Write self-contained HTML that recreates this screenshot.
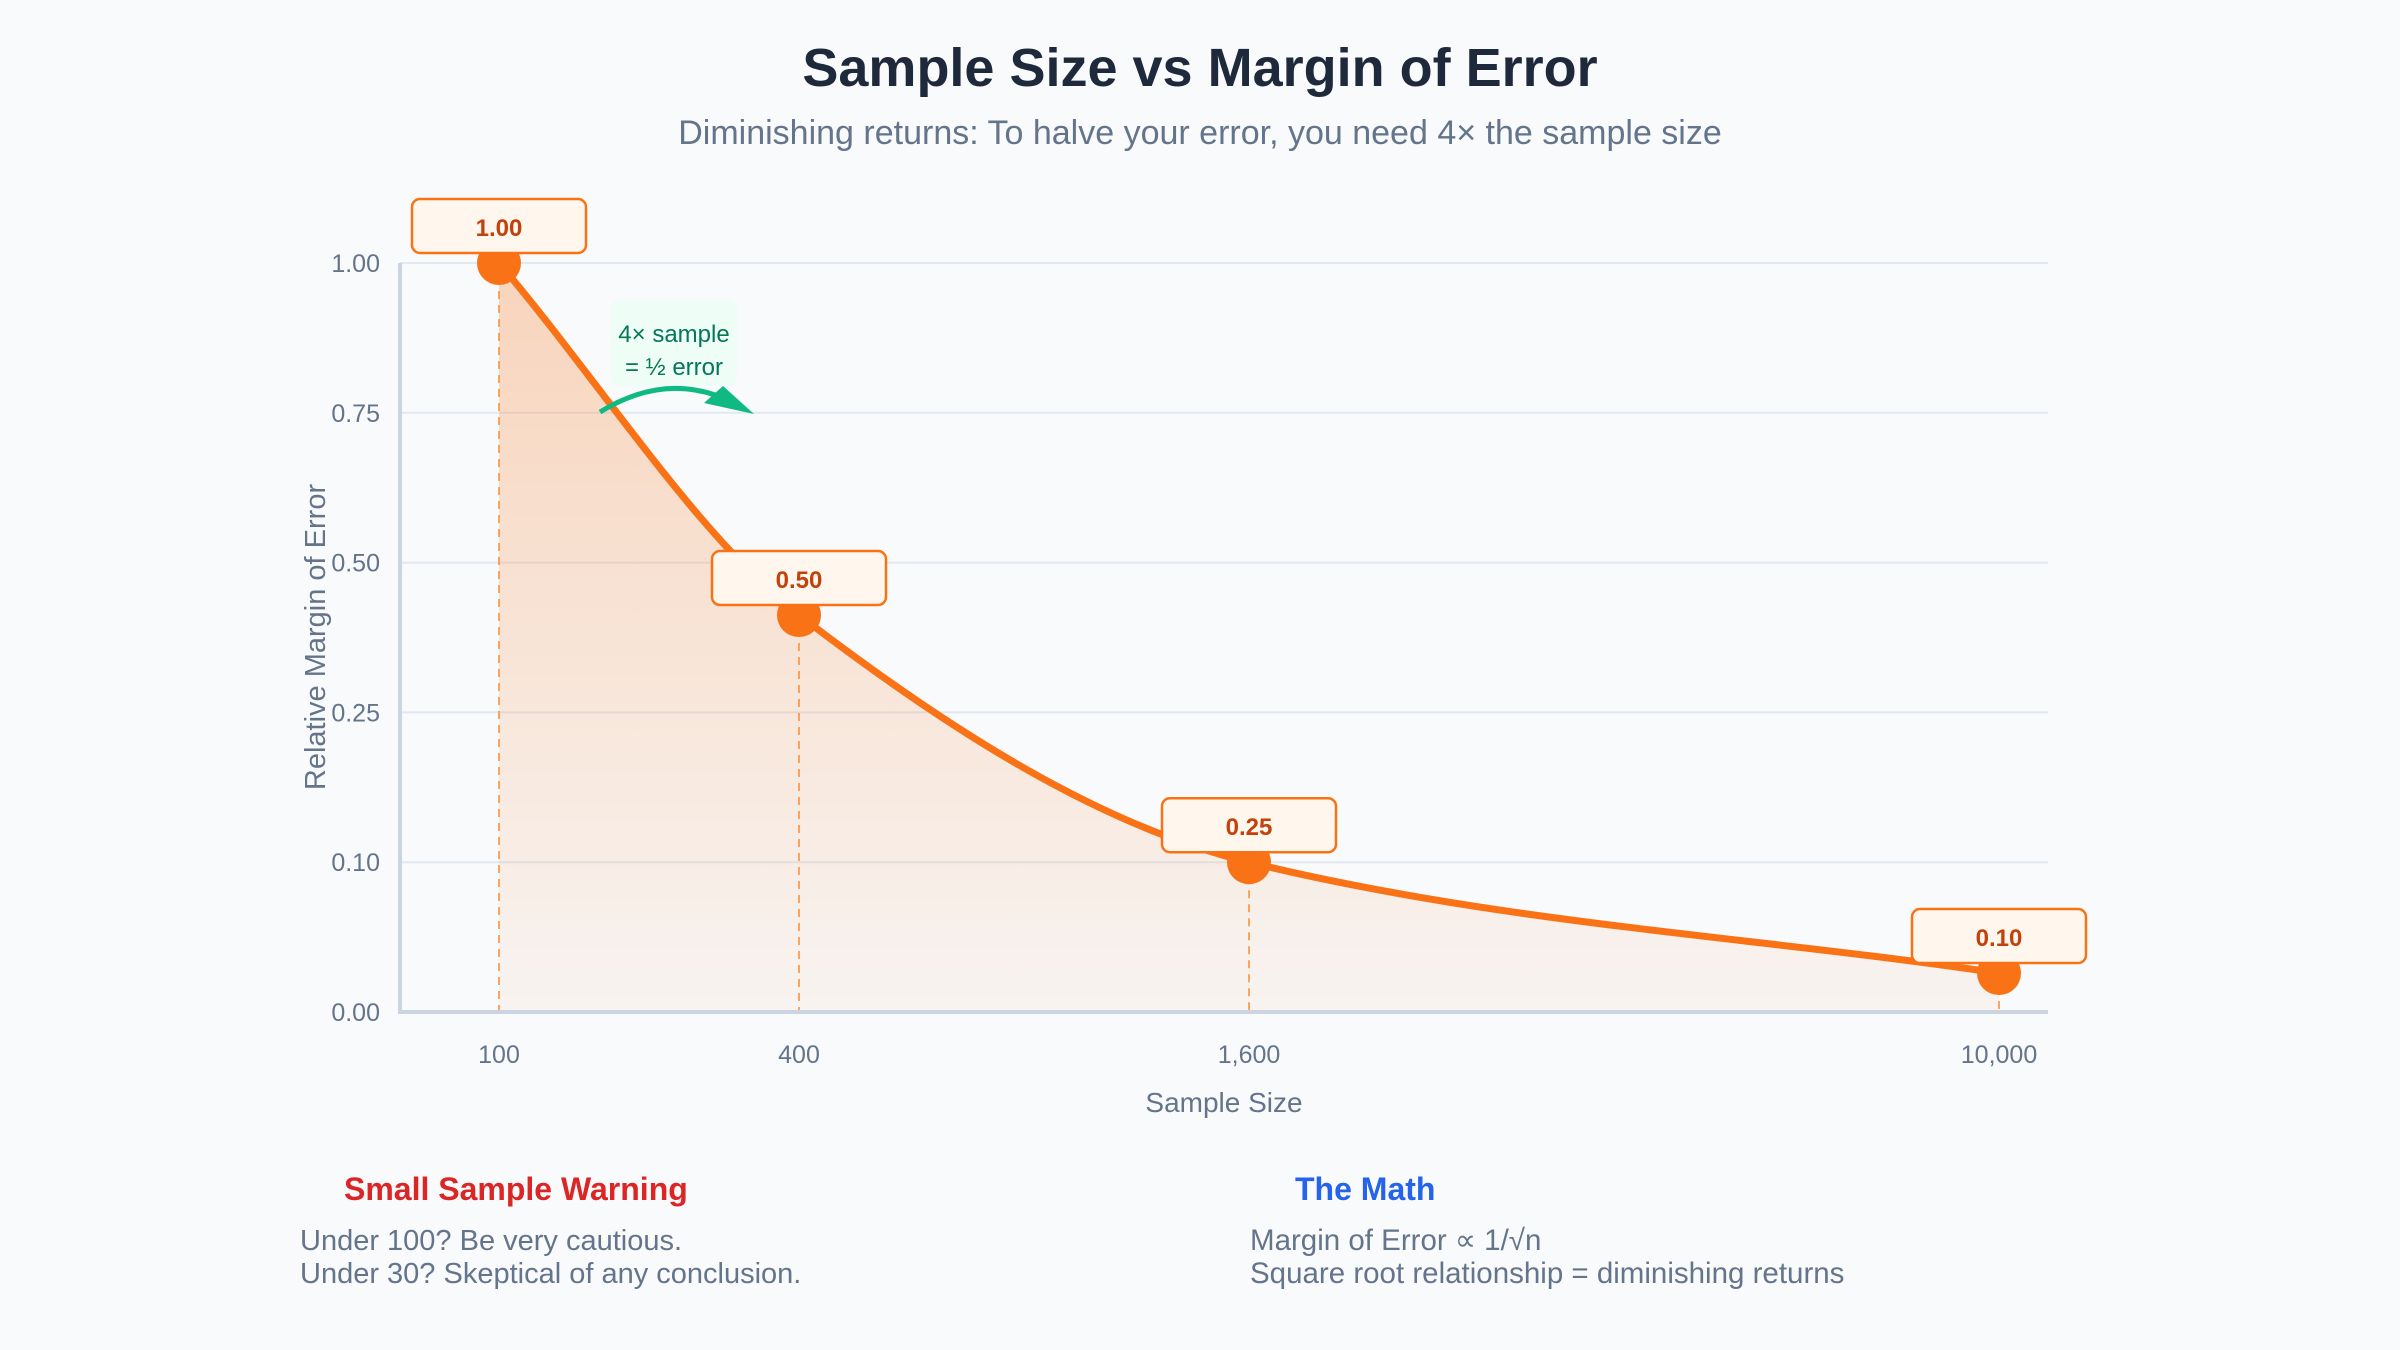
<!DOCTYPE html>
<html><head><meta charset="utf-8">
<style>
html,body{margin:0;padding:0;background:#f8fafc;}
svg{display:block;font-family:"Liberation Sans",sans-serif;}
</style></head>
<body>
<svg id="chart" width="2400" height="1350" viewBox="0 0 2400 1350" xmlns="http://www.w3.org/2000/svg">
<defs>
<linearGradient id="fillGrad" x1="0" y1="0" x2="0" y2="1">
<stop offset="0" stop-color="#f97316" stop-opacity="0.28"/>
<stop offset="1" stop-color="#f97316" stop-opacity="0.05"/>
</linearGradient>
</defs>
<rect width="2400" height="1350" fill="#f8fafc"/>
<text x="1200" y="86" text-anchor="middle" font-size="54" font-weight="bold" fill="#1e293b">Sample Size vs Margin of Error</text>
<text x="1200" y="144" text-anchor="middle" font-size="34" fill="#64748b">Diminishing returns: To halve your error, you need 4× the sample size</text>
<g id="grid"></g>
<g id="plot"></g>
<g id="axes"></g>
<g>
<rect x="611" y="300" width="126" height="86" rx="8" fill="#ecfdf5" opacity="0.9"/>
<text x="674" y="342" text-anchor="middle" font-size="24" fill="#047857">4× sample</text>
<text x="674" y="375" text-anchor="middle" font-size="24" fill="#047857">= ½ error</text>
<path d="M600,412 Q660,375 718,396" fill="none" stroke="#10b981" stroke-width="5"/>
<polygon points="704,403 723,386 754,414" fill="#10b981"/>
</g>
<text x="344" y="1200" font-size="32" font-weight="bold" fill="#dc2626">Small Sample Warning</text>
<text x="300" y="1250" font-size="29" fill="#64748b">Under 100? Be very cautious.</text>
<text x="300" y="1283" font-size="29" fill="#64748b">Under 30? Skeptical of any conclusion.</text>
<text x="1295" y="1200" font-size="32" font-weight="bold" fill="#2563eb">The Math</text>
<text x="1250" y="1250" font-size="29.5" fill="#64748b">Margin of Error ∝ 1/√n</text>
<text x="1250" y="1283" font-size="29.5" fill="#64748b">Square root relationship = diminishing returns</text>
</svg>
<script>
const sampleSizes = [100, 400, 1600, 10000];
const errorValues = [1.0, 0.53, 0.2, 0.052];
const pointLabels = ["1.00", "0.50", "0.25", "0.10"];
const xTickLabels = ["100", "400", "1,600", "10,000"];
const yTickValues = [1.0, 0.8, 0.6, 0.4, 0.2, 0.0];
const yTickLabels = ["1.00", "0.75", "0.50", "0.25", "0.10", "0.00"];

const NS = "http://www.w3.org/2000/svg";
const X0 = 400, X1 = 2048, Y0 = 1012, Y1 = 263;
const xAnchorFrac = [0, 0.2, 0.5, 1];
const xr0 = 499, xr1 = 1999;
function xScale(n) {
  const d = sampleSizes;
  let i = 0;
  while (i < d.length - 2 && n > d[i + 1]) i++;
  const t = (n - d[i]) / (d[i + 1] - d[i]);
  const f = xAnchorFrac[i] + t * (xAnchorFrac[i + 1] - xAnchorFrac[i]);
  return xr0 + f * (xr1 - xr0);
}
function yScale(v) { return Y0 - v * (Y0 - Y1); }
function mk(tag, attrs, parent) {
  const e = document.createElementNS(NS, tag);
  for (const k in attrs) e.setAttribute(k, attrs[k]);
  parent.appendChild(e);
  return e;
}
const grid = document.getElementById('grid');
const plot = document.getElementById('plot');
const axes = document.getElementById('axes');

yTickValues.forEach((v, i) => {
  const y = yScale(v);
  if (v > 0) {
    const g = mk('line', {x1: X0, x2: X1, y1: y, y2: y, stroke: '#e2e8f0', 'stroke-width': 2}, grid);
    
    
  }
  const t = mk('text', {x: 380, y: y + 9, 'text-anchor': 'end', 'font-size': 25, fill: '#64748b'}, axes);
  t.textContent = yTickLabels[i];
  
  
});

const pts = sampleSizes.map((n, i) => [xScale(n), yScale(errorValues[i])]);
function monotonePath(p) {
  const n = p.length, dx = [], m = [], tg = [];
  for (let i = 0; i < n - 1; i++) { dx.push(p[i+1][0]-p[i][0]); m.push((p[i+1][1]-p[i][1])/dx[i]); }
  tg[0] = m[0]; tg[n-1] = m[n-2];
  for (let i = 1; i < n - 1; i++) {
    if (m[i-1]*m[i] <= 0) tg[i] = 0;
    else { const w1 = 2*dx[i]+dx[i-1], w2 = dx[i]+2*dx[i-1]; tg[i] = (w1+w2)/(w1/m[i-1]+w2/m[i]); }
  }
  let d = `M${p[0][0]},${p[0][1]}`;
  for (let i = 0; i < n - 1; i++) {
    const h = dx[i] / 3;
    d += ` C${p[i][0]+h},${p[i][1]+tg[i]*h} ${p[i+1][0]-h},${p[i+1][1]-tg[i+1]*h} ${p[i+1][0]},${p[i+1][1]}`;
  }
  return d;
}
const curve = monotonePath(pts);
const area = mk('path', {d: curve + ` L${pts[pts.length-1][0]},${Y0} L${pts[0][0]},${Y0} Z`, fill: 'url(#fillGrad)'}, plot);



pts.forEach((p, i) => {
  const dl = mk('line', {x1: p[0], x2: p[0], y1: p[1], y2: Y0, stroke: '#fb923c', 'stroke-width': 2, 'stroke-dasharray': '8,6', opacity: 0.8}, plot);
  
  
});
const line = mk('path', {d: curve, fill: 'none', stroke: '#f97316', 'stroke-width': 7, 'stroke-linecap': 'round'}, plot);



pts.forEach((p, i) => {
  const c = mk('circle', {cx: p[0], cy: p[1], r: 22, fill: '#f97316'}, plot);
  
  
  const r = mk('rect', {x: p[0]-87, y: p[1]-64, width: 174, height: 54, rx: 8, fill: '#fff7ed', stroke: '#f97316', 'stroke-width': 2.5}, plot);
  
  
  const t = mk('text', {x: p[0], y: p[1]-27, 'text-anchor': 'middle', 'font-size': 24, 'font-weight': 'bold', fill: '#c2410c'}, plot);
  t.textContent = pointLabels[i];
  
  
  const xt = mk('text', {x: p[0], y: 1063, 'text-anchor': 'middle', 'font-size': 25, fill: '#64748b'}, axes);
  xt.textContent = xTickLabels[i];
  
  
});

const ya = mk('line', {x1: X0, x2: X0, y1: Y1, y2: Y0 + 2, stroke: '#cbd5e1', 'stroke-width': 4}, axes);


const xa = mk('line', {x1: X0 - 2, x2: X1, y1: Y0, y2: Y0, stroke: '#cbd5e1', 'stroke-width': 4}, axes);


const yt = mk('text', {x: 0, y: 0, transform: 'translate(325,637) rotate(-90)', 'text-anchor': 'middle', 'font-size': 29, fill: '#64748b'}, axes);
yt.textContent = 'Relative Margin of Error';


const xt2 = mk('text', {x: 1224, y: 1112, 'text-anchor': 'middle', 'font-size': 28, fill: '#64748b'}, axes);
xt2.textContent = 'Sample Size';


</script>
</body></html>
